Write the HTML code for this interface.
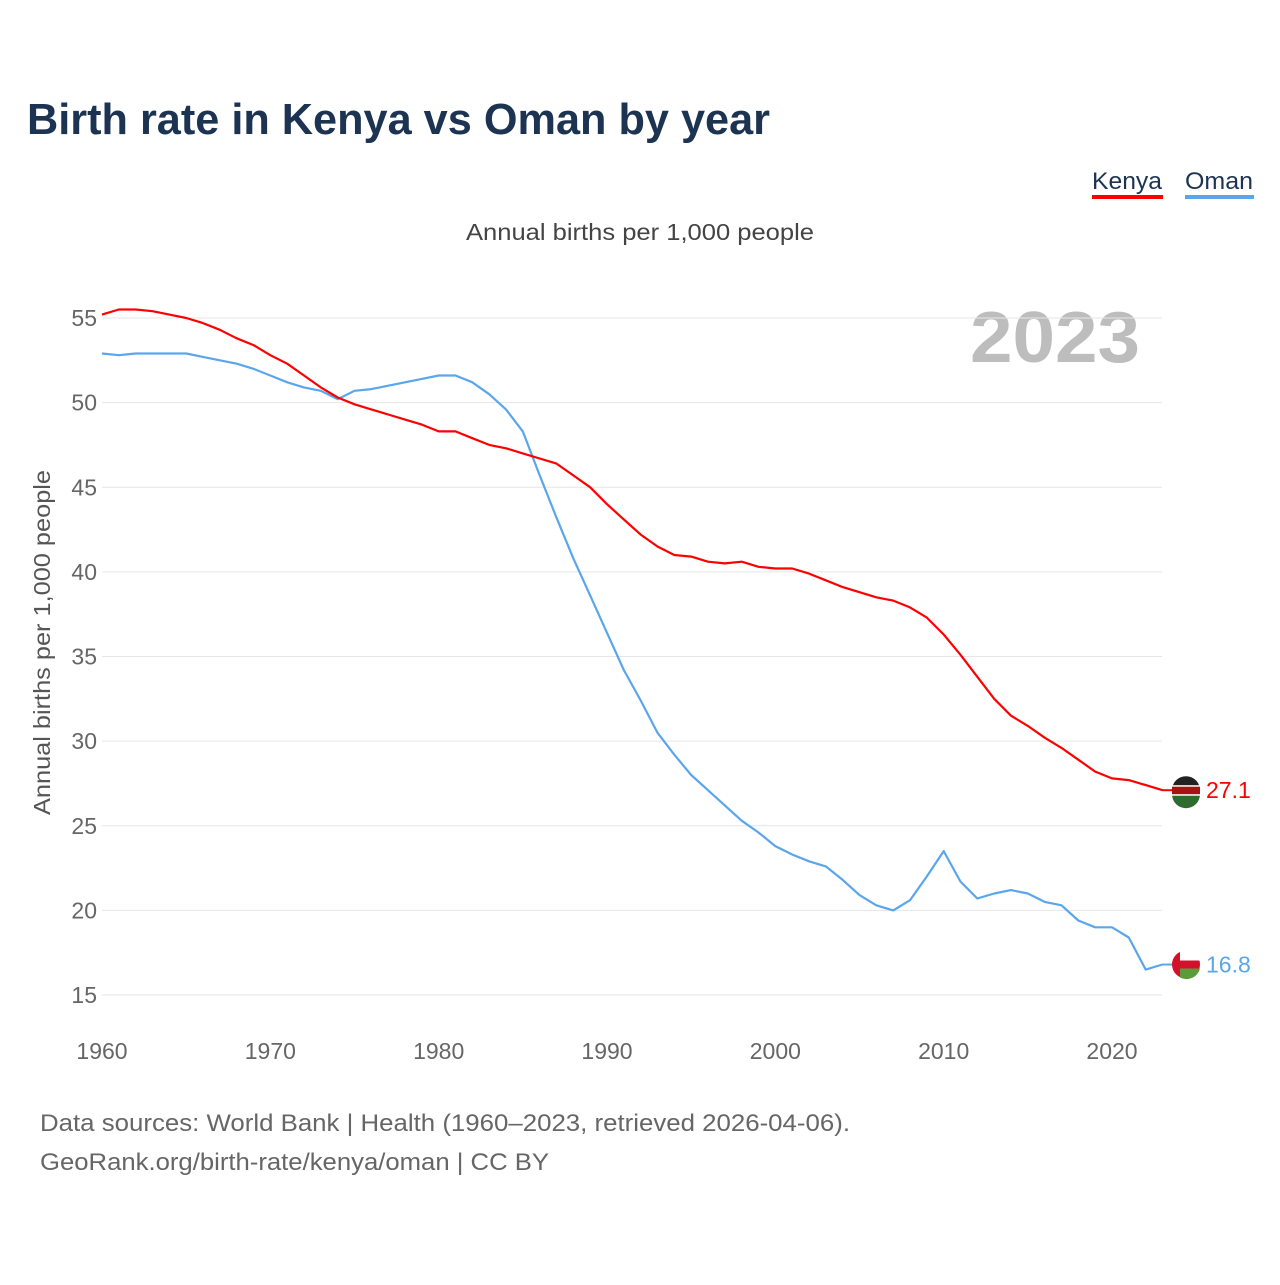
<!DOCTYPE html>
<html><head><meta charset="utf-8"><style>
body{margin:0;background:#fff;font-family:"Liberation Sans",sans-serif;}
svg text{font-family:"Liberation Sans",sans-serif;}
</style></head><body>
<svg id="chart" width="1280" height="1280" viewBox="0 0 1280 1280">
<text x="27" y="134" font-size="44" font-weight="bold" fill="#1c3352" textLength="743" lengthAdjust="spacingAndGlyphs">Birth rate in Kenya vs Oman by year</text>
<g>
<text x="1092" y="189" font-size="24" fill="#1c3352" textLength="70" lengthAdjust="spacingAndGlyphs">Kenya</text>
<rect x="1092" y="195" width="71" height="4" fill="#ff0000"/>
<text x="1185" y="189" font-size="24" fill="#1c3352" textLength="68" lengthAdjust="spacingAndGlyphs">Oman</text>
<rect x="1185" y="195" width="69" height="4" fill="#5aa6ec"/>
</g>
<text x="466" y="240" font-size="23" fill="#444" textLength="348" lengthAdjust="spacingAndGlyphs">Annual births per 1,000 people</text>
<text x="1140" y="362" font-size="72" font-weight="bold" fill="#bdbdbd" text-anchor="end" textLength="170" lengthAdjust="spacingAndGlyphs">2023</text>
<text transform="translate(50,815) rotate(-90)" font-size="23" fill="#555" textLength="345" lengthAdjust="spacingAndGlyphs">Annual births per 1,000 people</text>
<g id="grid"></g><g id="xt"></g><g id="lines"></g>
<text x="40" y="1131" font-size="24" fill="#666" textLength="810" lengthAdjust="spacingAndGlyphs">Data sources: World Bank | Health (1960–2023, retrieved 2026-04-06).</text>
<text x="40" y="1170" font-size="24" fill="#666" textLength="509" lengthAdjust="spacingAndGlyphs">GeoRank.org/birth-rate/kenya/oman | CC BY</text>
</svg>
<script>
const years=[];for(let y=1960;y<=2023;y++)years.push(y);
const yTicks=[15,20,25,30,35,40,45,50,55];
const xTicks=[1960,1970,1980,1990,2000,2010,2020];
const kenya=[55.2,55.5,55.5,55.4,55.2,55.0,54.7,54.3,53.8,53.4,52.8,52.3,51.6,50.9,50.3,49.9,49.6,49.3,49.0,48.7,48.3,48.3,47.9,47.5,47.3,47.0,46.7,46.4,45.7,45.0,44.0,43.1,42.2,41.5,41.0,40.9,40.6,40.5,40.6,40.3,40.2,40.2,39.9,39.5,39.1,38.8,38.5,38.3,37.9,37.3,36.3,35.1,33.8,32.5,31.5,30.9,30.2,29.6,28.9,28.2,27.8,27.7,27.4,27.1];
const oman=[52.9,52.8,52.9,52.9,52.9,52.9,52.7,52.5,52.3,52.0,51.6,51.2,50.9,50.7,50.2,50.7,50.8,51.0,51.2,51.4,51.6,51.6,51.2,50.5,49.6,48.3,45.7,43.2,40.8,38.6,36.4,34.2,32.4,30.5,29.2,28.0,27.1,26.2,25.3,24.6,23.8,23.3,22.9,22.6,21.8,20.9,20.3,20.0,20.6,22.0,23.5,21.7,20.7,21.0,21.2,21.0,20.5,20.3,19.4,19.0,19.0,18.4,16.5,16.8];
const X=y=>102+(y-1960)*(1112-102)/60;
const Y=v=>318+(55-v)*(995-318)/40;
const NS='http://www.w3.org/2000/svg';
function mk(t,a,p){const e=document.createElementNS(NS,t);for(const k in a)e.setAttribute(k,a[k]);p.appendChild(e);return e;}
const grid=document.getElementById('grid');
yTicks.forEach(v=>{
 const l=mk('line',{x1:102,x2:1162,y1:Y(v),y2:Y(v),stroke:'#e6e6e6','stroke-width':1},grid);
 
 
 const t=mk('text',{x:97,y:Y(v)+8,'font-size':23,fill:'#666','text-anchor':'end'},grid);t.textContent=v;
 
 
});
const xt=document.getElementById('xt');
xTicks.forEach(v=>{
 const t=mk('text',{x:X(v),y:1059,'font-size':23,fill:'#666','text-anchor':'middle'},xt);t.textContent=v;
 
 
});
const lines=document.getElementById('lines');
function series(data,color,name){
 const d=data.map((v,i)=>(i?'L':'M')+X(years[i]).toFixed(1)+','+Y(v).toFixed(1)).join('');
 const p=mk('path',{d:d,fill:'none',stroke:color,'stroke-width':2.2,'stroke-linejoin':'round'},lines);
 
 
 const last=data[data.length-1],ly=Y(last);
 mk('line',{x1:X(2023),x2:1176,y1:ly,y2:ly,stroke:color,'stroke-width':2},lines);
 const c=mk('circle',{cx:1186,cy:ly,r:14,fill:name==='kenya'?'#222':'#d2112d'},lines);
 
 
 if(name==='kenya'){
  mk('path',{d:`M1172,${ly+4}A14,14 0 0 0 1200,${ly+4}Z`,fill:'#2e6b2e'},lines);
  mk('rect',{x:1172,y:ly-4,width:28,height:8,fill:'#a11'},lines);
  mk('rect',{x:1172,y:ly-5,width:28,height:1.5,fill:'#fff'},lines);
  mk('rect',{x:1172,y:ly+4,width:28,height:1.5,fill:'#fff'},lines);
 } else {
  mk('path',{d:`M1180,${ly-13}A14,14 0 0 1 1200,${ly-4}L1180,${ly-4}Z`,fill:'#fff'},lines);
  mk('path',{d:`M1180,${ly+4}L1200,${ly+4}A14,14 0 0 1 1180,${ly+13}Z`,fill:'#5c9a3a'},lines);
 }
 const t=mk('text',{x:1206,y:ly+8,'font-size':23,fill:color},lines);t.textContent=last.toFixed(1);
 
 
}
series(oman,'#5aa6ec','oman');
series(kenya,'#ff0000','kenya');
</script>
</body></html>
